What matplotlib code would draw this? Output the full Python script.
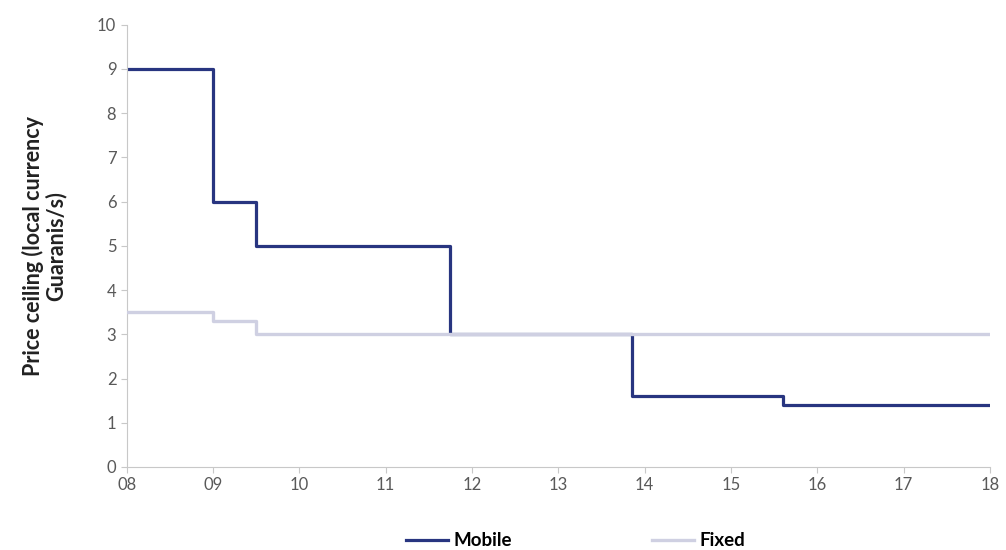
import matplotlib.pyplot as plt
from matplotlib.ticker import FuncFormatter

plt.rcParams['font.family'] = ['Lato', 'DejaVu Sans']

# step change points (year 20xx) and price ceilings
mobile_x = [8, 9, 9.5, 11.75, 13.85, 15.6, 18]
mobile_y = [9, 6, 5, 3, 1.6, 1.4, 1.4]
fixed_x = [8, 9, 9.5, 18]
fixed_y = [3.5, 3.3, 3, 3]

fig = plt.figure(figsize=(10.06, 5.5), dpi=100)
ax = fig.add_axes([0.126, 0.151, 0.858, 0.804])

ax.plot(mobile_x, mobile_y, drawstyle='steps-post', color='#283580', lw=2.3, label='Mobile', zorder=2)
ax.plot(fixed_x, fixed_y, drawstyle='steps-post', color='#cfd0e2', lw=2.4, label='Fixed', zorder=3)

ax.set_xlim(8, 18)
ax.set_ylim(0, 10)
ax.set_xticks(range(8, 19))
ax.set_yticks(range(0, 11))
ax.xaxis.set_major_formatter(FuncFormatter(lambda v, p: f"{int(v):02d}"))

for s in ['top', 'right']:
    ax.spines[s].set_visible(False)
for s in ['left', 'bottom']:
    ax.spines[s].set_color('#c8c8c8')
ax.tick_params(colors='#c8c8c8', labelcolor='#595959', labelsize=12, length=4)

ax.set_ylabel('Price ceiling (local currency\nGuaranis/s)', fontsize=15.5, color='#222222',
              fontweight='bold', labelpad=22, linespacing=1.05, multialignment='center')

ax.legend(loc='upper center', bbox_to_anchor=(0.52, -0.11), ncol=2, frameon=False,
          prop={'weight': 'bold', 'size': 13.5}, handlelength=2.2, handletextpad=0.3,
          columnspacing=7.5)

fig.savefig('out.png', dpi=100)
